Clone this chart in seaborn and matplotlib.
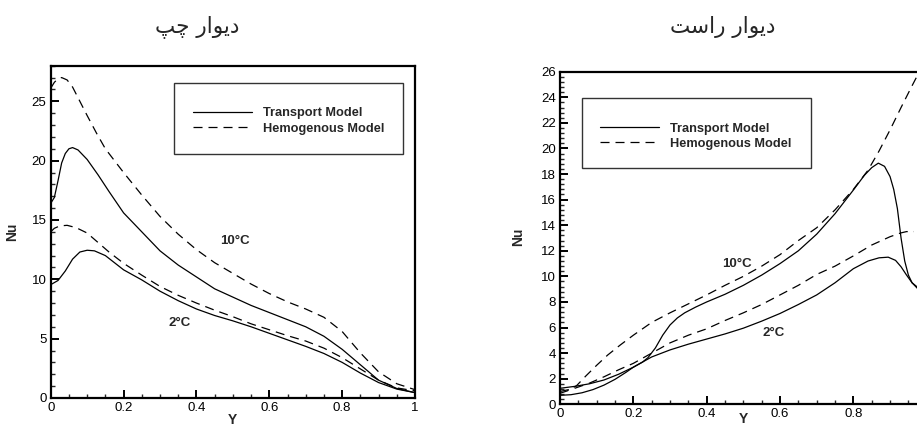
import numpy as np
import pandas as pd
import seaborn as sns
import matplotlib
matplotlib.use("Agg")
import matplotlib.pyplot as plt
from matplotlib.patches import Rectangle
from matplotlib.ticker import MultipleLocator, FuncFormatter
from matplotlib.lines import Line2D

# ---------------- data: left wall ----------------
left_t10_y = [0, 0.01, 0.02, 0.03, 0.04, 0.05, 0.06, 0.075, 0.1, 0.13, 0.16, 0.2, 0.25, 0.3,
              0.35, 0.4, 0.45, 0.5, 0.55, 0.6, 0.65, 0.7, 0.75, 0.8, 0.85, 0.9, 0.95, 1.0]
left_t10_nu = [16.4, 16.9, 18.3, 19.8, 20.6, 21.0, 21.1, 20.9, 20.1, 18.8, 17.4, 15.6, 14.0, 12.4,
               11.2, 10.2, 9.2, 8.5, 7.8, 7.2, 6.6, 6.0, 5.2, 4.1, 2.8, 1.5, 0.8, 0.45]

left_h10_y = [0, 0.01, 0.02, 0.03, 0.045, 0.06, 0.08, 0.1, 0.126, 0.15, 0.2, 0.25, 0.3, 0.35,
              0.4, 0.45, 0.5, 0.55, 0.6, 0.65, 0.7, 0.75, 0.8, 0.85, 0.9, 0.95, 1.0]
left_h10_nu = [26.1, 26.6, 26.9, 27.0, 26.8, 26.2, 25.0, 23.8, 22.3, 21.0, 19.0, 17.1, 15.3, 13.8,
               12.5, 11.4, 10.5, 9.6, 8.8, 8.1, 7.5, 6.8, 5.6, 3.8, 2.2, 1.2, 0.7]

left_t2_y = [0, 0.02, 0.04, 0.06, 0.08, 0.1, 0.12, 0.15, 0.2, 0.25, 0.3, 0.35, 0.4, 0.45, 0.5,
             0.55, 0.6, 0.65, 0.7, 0.75, 0.8, 0.85, 0.9, 0.95, 1.0]
left_t2_nu = [9.55, 9.9, 10.7, 11.7, 12.3, 12.45, 12.4, 12.0, 10.8, 9.95, 9.0, 8.2, 7.5, 6.95, 6.5,
              6.0, 5.45, 4.9, 4.35, 3.75, 3.0, 2.1, 1.3, 0.75, 0.45]

left_h2_y = [0, 0.01, 0.025, 0.045, 0.07, 0.1, 0.13, 0.16, 0.2, 0.25, 0.3, 0.35, 0.4, 0.45, 0.5,
             0.55, 0.6, 0.65, 0.7, 0.75, 0.8, 0.85, 0.9, 0.95, 1.0]
left_h2_nu = [14.0, 14.3, 14.5, 14.55, 14.35, 13.9, 13.1, 12.3, 11.35, 10.35, 9.4, 8.65, 8.0, 7.4,
              6.85, 6.25, 5.75, 5.25, 4.8, 4.2, 3.4, 2.45, 1.5, 0.85, 0.6]

# ---------------- data: right wall ----------------
right_t10_y = [0, 0.04, 0.08, 0.12, 0.16, 0.2, 0.225, 0.24, 0.26, 0.28, 0.3, 0.32, 0.34, 0.37, 0.4,
               0.45, 0.5, 0.55, 0.6, 0.65, 0.7, 0.75, 0.8, 0.83, 0.85, 0.868, 0.885, 0.9, 0.91,
               0.92, 0.93, 0.94, 0.95, 0.96, 0.975, 1.0]
right_t10_nu = [1.25, 1.4, 1.6, 1.9, 2.35, 2.9, 3.3, 3.65, 4.4, 5.4, 6.2, 6.75, 7.15, 7.6, 8.0,
                8.6, 9.3, 10.1, 11.0, 12.0, 13.3, 14.9, 16.75, 17.9, 18.5, 18.85, 18.6, 17.8, 16.8,
                15.3, 13.0, 11.2, 10.1, 9.5, 9.15, 9.6]

right_h10_y = [0, 0.02, 0.045, 0.07, 0.1, 0.13, 0.165, 0.2, 0.25, 0.3, 0.35, 0.4, 0.45, 0.5, 0.55,
               0.6, 0.65, 0.7, 0.75, 0.8, 0.84, 0.87, 0.9, 0.93, 0.96, 0.98]
right_h10_nu = [0.86, 1.05, 1.45, 2.2, 3.05, 3.85, 4.65, 5.4, 6.4, 7.15, 7.85, 8.55, 9.3, 10.0, 10.8,
                11.7, 12.8, 13.8, 15.2, 16.8, 18.3, 19.8, 21.45, 23.2, 24.9, 26.0]

right_t2_y = [0, 0.03, 0.06, 0.09, 0.12, 0.15, 0.18, 0.2, 0.25, 0.3, 0.35, 0.4, 0.45, 0.5, 0.55,
              0.6, 0.65, 0.7, 0.75, 0.8, 0.84, 0.87, 0.895, 0.915, 0.93, 0.945, 0.96, 0.975, 1.0]
right_t2_nu = [0.7, 0.75, 0.9, 1.15, 1.5, 1.95, 2.5, 2.9, 3.7, 4.25, 4.7, 5.1, 5.5, 5.95, 6.5,
               7.1, 7.8, 8.55, 9.5, 10.6, 11.2, 11.45, 11.5, 11.25, 10.75, 10.1, 9.5, 9.05, 9.3]

right_h2_y = [0, 0.04, 0.08, 0.12, 0.16, 0.2, 0.25, 0.3, 0.35, 0.4, 0.45, 0.5, 0.55, 0.6, 0.65,
              0.7, 0.75, 0.8, 0.85, 0.9, 0.93, 0.945, 0.965]
right_h2_nu = [1.0, 1.25, 1.65, 2.15, 2.7, 3.2, 4.0, 4.8, 5.4, 5.9, 6.55, 7.15, 7.8, 8.55, 9.3,
               10.15, 10.8, 11.6, 12.45, 13.1, 13.4, 13.5, 13.5]

model_labels = ["Transport Model", "Hemogenous Model"]
temp_labels = ["10°C", "2°C"]

# Persian panel titles written with Arabic presentation forms in visual order
title_left = "\uFB57\uFB7C \uFEAD\uFE8D\uFEEE\uFBFE\uFEA9"      # دیوار چپ
title_right = "\uFE96\uFEB3\uFE8D\uFEAD \uFEAD\uFE8D\uFEEE\uFBFE\uFEA9"  # دیوار راست

# ---------------- style ----------------
sns.set_theme(style="white")
plt.rcParams["font.family"] = ["Liberation Sans", "DejaVu Sans"]
plt.rcParams["axes.linewidth"] = 1.6
plt.rcParams["axes.edgecolor"] = "black"

LW = 0.9
DASH = (6.5 / LW, 4.3 / LW)


def tick_fmt(hide_one=False):
    def f(v, p):
        if hide_one and abs(v - 1) < 1e-9:
            return ""
        return f"{v:g}"
    return FuncFormatter(f)


def draw_panel(ax, series, ymax, ymajor, yminor, hide_one=False):
    for (xs, ys, dashed) in series:
        df = pd.DataFrame({"Y": xs, "Nu": ys})
        sns.lineplot(data=df, x="Y", y="Nu", ax=ax, color="black", lw=LW,
                     estimator=None, sort=False)
        if dashed:
            ax.lines[-1].set_dashes(DASH)
    ax.set_xlim(0, 1)
    ax.set_ylim(0, ymax)
    ax.xaxis.set_major_locator(MultipleLocator(0.2))
    ax.xaxis.set_minor_locator(MultipleLocator(0.05))
    ax.yaxis.set_major_locator(MultipleLocator(ymajor))
    ax.yaxis.set_minor_locator(MultipleLocator(yminor))
    ax.xaxis.set_major_formatter(tick_fmt(hide_one))
    ax.yaxis.set_major_formatter(tick_fmt())
    ax.tick_params(which="major", direction="in", length=6, width=1.4,
                   labelsize=9.5, pad=3, bottom=True, left=True, top=False, right=False,
                   colors="black")
    ax.tick_params(which="minor", direction="in", length=3.2, width=1.0,
                   bottom=True, left=True, top=False, right=False)
    ax.set_xlabel("Y", fontsize=10, fontweight="bold", va="bottom")
    ax.set_ylabel("Nu", fontsize=10, fontweight="bold")


fig = plt.figure(figsize=(9.17, 4.28), dpi=100)
axL = fig.add_axes([0.0553, 0.0701, 0.3973, 0.7764])
axR = fig.add_axes([0.6107, 0.0554, 0.3999, 0.7771])

draw_panel(axL, [(left_h10_y, left_h10_nu, True), (left_t10_y, left_t10_nu, False),
                 (left_h2_y, left_h2_nu, True), (left_t2_y, left_t2_nu, False)],
           28, 5, 1)
draw_panel(axR, [(right_h10_y, right_h10_nu, True), (right_t10_y, right_t10_nu, False),
                 (right_h2_y, right_h2_nu, True), (right_t2_y, right_t2_nu, False)],
           26, 2, 0.4, hide_one=True)

axL.yaxis.set_label_coords(-0.087, 0.5)
axL.xaxis.set_label_coords(0.5, -0.086)
axR.yaxis.set_label_coords(-0.0955, 0.504)
axR.xaxis.set_label_coords(0.5, -0.066)

# temperature labels
axL.text(0.506, 13.2, temp_labels[0], fontsize=9.5, fontweight="bold", ha="center", va="center")
axL.text(0.355, 6.3, temp_labels[1], fontsize=9.5, fontweight="bold", ha="center", va="center")
axR.text(0.482, 11.0, temp_labels[0], fontsize=9.5, fontweight="bold", ha="center", va="center")
axR.text(0.582, 5.6, temp_labels[1], fontsize=9.5, fontweight="bold", ha="center", va="center")

# legends with square frames
handles = [Line2D([], [], color="black", lw=LW),
           Line2D([], [], color="black", lw=LW, dashes=DASH)]
for ax, box, anchor in [(axL, (0.338, 0.734, 0.629, 0.214), (0.3906, 0.8336)),
                        (axR, (0.059, 0.7096, 0.625, 0.212), (0.109, 0.806))]:
    ax.add_patch(Rectangle(box[:2], box[2], box[3], transform=ax.transAxes,
                           fill=False, ec="#333333", lw=1.0, zorder=5))
    ax.legend(handles, model_labels, loc="center left", bbox_to_anchor=anchor,
              frameon=False, borderpad=0, borderaxespad=0, handlelength=4.6,
              handletextpad=0.85, labelspacing=0.25,
              prop={"size": 9.2, "weight": "bold"})

fig.text(0.2148, 0.938, title_left, fontsize=15.5, ha="center", va="center",
         family="DejaVu Sans")
fig.text(0.7884, 0.938, title_right, fontsize=15.5, ha="center", va="center",
         family="DejaVu Sans")

fig.savefig("out.png", dpi=100)
